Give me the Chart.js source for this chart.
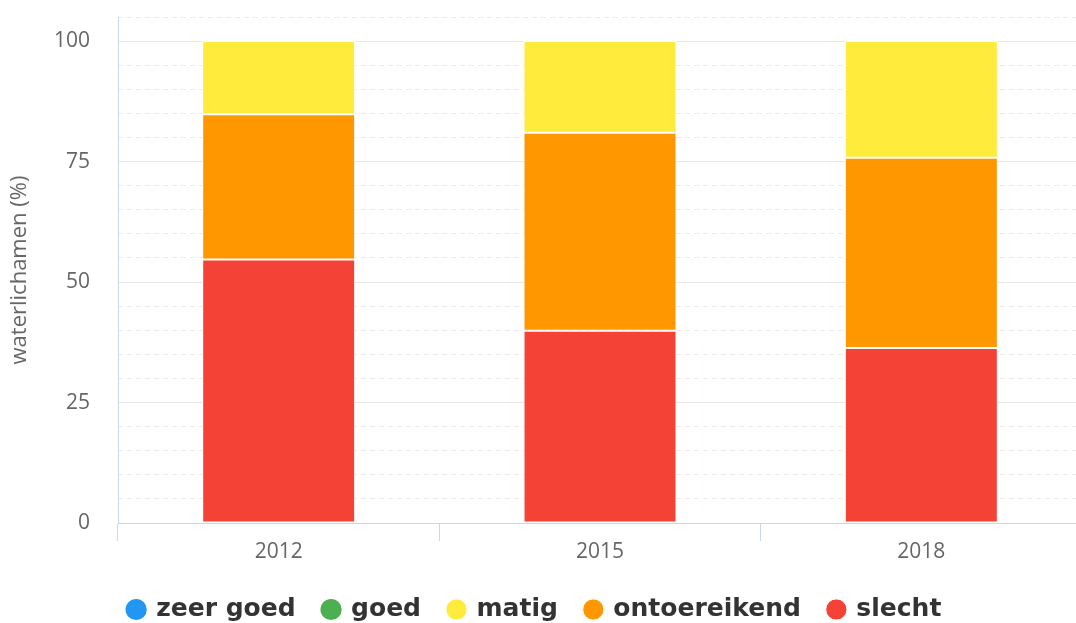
<!DOCTYPE html>
<html>
<head>
<meta charset="utf-8">
<script src="https://cdn.jsdelivr.net/npm/chart.js@4"></script>
<style>
  html, body { margin: 0; padding: 0; background: #fff; overflow: hidden; }
  #wrap { width: 1107px; height: 623px; }
</style>
</head>
<body>
<div id="wrap"><canvas id="chart"></canvas></div>
<script>
const jaren = ['2012', '2015', '2018'];
const slecht = [54.7, 39.9, 36.3];
const ontoereikend = [30.1, 41.1, 39.5];
const matig = [15.2, 19.0, 24.2];
const goed = [0, 0, 0];
const zeerGoed = [0, 0, 0];
const yTicks = [0, 25, 50, 75, 100];

const kleuren = {
  zeerGoed: '#2196f3',
  goed: '#4caf50',
  matig: '#ffeb3b',
  ontoereikend: '#ff9800',
  slecht: '#f44336'
};

const tekstFont = '"Open Sans", sans-serif';
const legendaFont = '"DejaVu Sans", sans-serif';

function serie(label, data, kleur) {
  return {
    label: label,
    data: data,
    backgroundColor: kleur,
    borderColor: '#ffffff',
    borderWidth: (c) => (c.raw ? 1 : 0),
    borderSkipped: false,
    barPercentage: 0.476,
    categoryPercentage: 1,
    xAxisID: 'x',
    yAxisID: 'y'
  };
}

const ctx = document.getElementById('chart').getContext('2d');
new Chart(ctx, {
  type: 'bar',
  data: {
    labels: jaren,
    datasets: [
      serie('slecht', slecht, kleuren.slecht),
      serie('ontoereikend', ontoereikend, kleuren.ontoereikend),
      serie('matig', matig, kleuren.matig),
      serie('goed', goed, kleuren.goed),
      serie('zeer goed', zeerGoed, kleuren.zeerGoed)
    ]
  },
  options: {
    responsive: true,
    maintainAspectRatio: false,
    animation: false,
    // legenda is gecentreerd over de volle breedte, daarom links negatieve padding
    layout: { padding: { top: 17, left: -12, right: 25, bottom: -9 } },
    plugins: {
      tooltip: { enabled: false },
      legend: {
        position: 'bottom',
        reverse: true,
        labels: {
          usePointStyle: true,
          pointStyle: 'circle',
          boxWidth: 15,
          boxHeight: 15,
          padding: 28,
          color: '#333333',
          font: { family: legendaFont, size: 25, weight: 'bold' }
        }
      }
    },
    scales: {
      x: {
        stacked: true,
        offset: true,
        afterFit: (s) => { s.height = 46; },
        grid: {
          offset: true,
          drawOnChartArea: false,
          drawTicks: true,
          tickLength: 18,
          tickColor: '#ccd6eb',
          color: '#ccd6eb'
        },
        border: { display: true, color: '#ccd6eb', width: 1 },
        ticks: {
          color: '#666666',
          padding: -2,
          font: { family: tekstFont, size: 21 }
        }
      },
      y: {
        stacked: true,
        min: 0,
        max: 105,
        afterFit: (s) => {
          s.width = 130;
          s.paddingTop = 0;
          s.paddingBottom = 0;
        },
        afterBuildTicks: (s) => { s.ticks = yTicks.map((v) => ({ value: v })); },
        title: {
          display: true,
          text: 'waterlichamen (%)',
          color: '#666666',
          padding: { top: 19, bottom: 0 },
          font: { family: tekstFont, size: 22 }
        },
        border: { display: true, color: '#ccd6eb', width: 1 },
        grid: {
          drawTicks: false,
          lineWidth: 1,
          color: '#e6e6e6'
        },
        ticks: {
          autoSkip: false,
          color: '#666666',
          padding: 28,
          font: { family: tekstFont, size: 21 }
        }
      },
      yMinor: {
        position: 'left',
        min: 0,
        max: 105,
        afterFit: (s) => {
          s.width = 0;
          s.paddingTop = 0;
          s.paddingBottom = 0;
        },
        border: { display: false, dash: [5, 4] },
        grid: {
          drawTicks: false,
          lineWidth: 1,
          color: (c) => (c.tick && c.tick.value % 25 !== 0 ? '#ebebeb' : 'rgba(0,0,0,0)')
        },
        ticks: { display: false, stepSize: 5, autoSkip: false }
      }
    }
  }
});
</script>
</body>
</html>
